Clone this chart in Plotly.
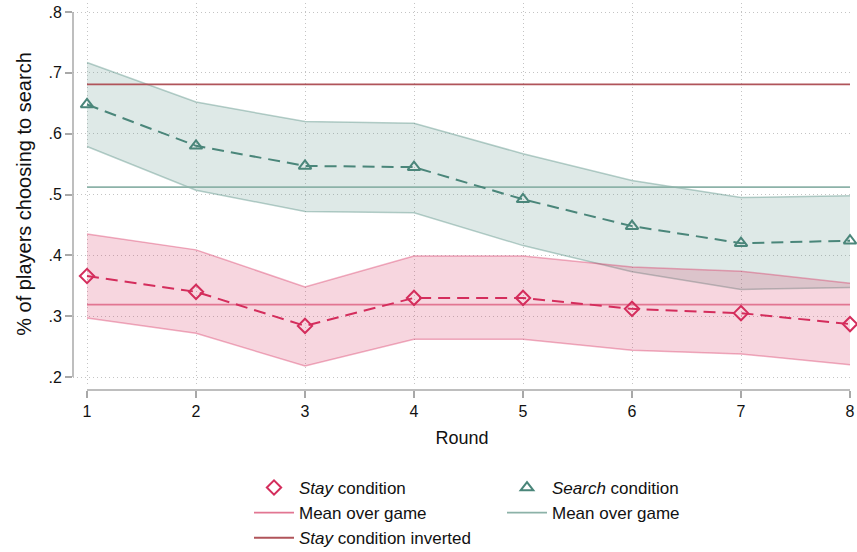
import plotly.graph_objects as go

# ---------------- data ----------------
rounds = [1, 2, 3, 4, 5, 6, 7, 8]
stay_share = [0.366, 0.340, 0.284, 0.330, 0.330, 0.312, 0.305, 0.287]
stay_low = [0.297, 0.272, 0.218, 0.262, 0.262, 0.244, 0.238, 0.220]
stay_high = [0.435, 0.409, 0.348, 0.399, 0.399, 0.381, 0.374, 0.354]
search_share = [0.648, 0.580, 0.547, 0.545, 0.492, 0.448, 0.420, 0.424]
search_low = [0.579, 0.507, 0.472, 0.470, 0.416, 0.373, 0.344, 0.347]
search_high = [0.717, 0.652, 0.620, 0.617, 0.567, 0.523, 0.495, 0.498]
stay_game_mean = 0.319
search_game_mean = 0.512
stay_inverted = round(1 - stay_game_mean, 3)

y_tick_vals = [0.2, 0.3, 0.4, 0.5, 0.6, 0.7, 0.8]
y_tick_text = [".2", ".3", ".4", ".5", ".6", ".7", ".8"]
x_tick_vals = rounds
x_tick_text = [str(r) for r in rounds]

# ---------------- style ----------------
FONT = "Liberation Sans, Arial, sans-serif"
RED = "rgb(212,45,92)"
RED_FILL = "rgba(215,48,95,0.20)"
RED_EDGE = "rgba(215,48,95,0.38)"
RED_MEAN = "rgb(226,118,146)"
INV = "rgb(176,84,90)"
TEAL = "rgb(74,134,122)"
TEAL_FILL = "rgba(78,138,126,0.19)"
TEAL_EDGE = "rgba(78,138,126,0.40)"
TEAL_MEAN = "rgb(140,178,168)"
AXIS = "#a8a8a8"
GRID = "#c4c4c4"

W, H = 857, 552
ML, MR, MT, MB = 73, 6, 3, 162
PW, PH = W - ML - MR, H - MT - MB
# x: 1 -> px 87, 8 -> px 850
px_per_round = (850 - 87) / 7
x0 = 1 - (87 - ML) / px_per_round
x1 = 8 + (W - MR - 850) / px_per_round
# y: .8 -> px 12, .2 -> px 377 ; y domain bottom at px 385
px_per_unit = (377 - 12) / 0.6
ytop_px, ybot_px = MT, 385
y1 = 0.8 + (12 - ytop_px) / px_per_unit
y0 = 0.2 - (ybot_px - 377) / px_per_unit
d0 = (MT + PH - ybot_px) / PH


def paper_x(v):
    return (v - x0) / (x1 - x0)


def paper_y(v):
    return d0 + (v - y0) / (y1 - y0) * (1 - d0)


fig = go.Figure()

# search ribbon
fig.add_trace(go.Scatter(x=rounds, y=search_low, mode="lines",
                         line=dict(color=TEAL_EDGE, width=1.5),
                         showlegend=False, hoverinfo="skip"))
fig.add_trace(go.Scatter(x=rounds, y=search_high, mode="lines", fill="tonexty",
                         fillcolor=TEAL_FILL, line=dict(color=TEAL_EDGE, width=1.5),
                         showlegend=False, hoverinfo="skip"))
# stay ribbon
fig.add_trace(go.Scatter(x=rounds, y=stay_low, mode="lines",
                         line=dict(color=RED_EDGE, width=1.5),
                         showlegend=False, hoverinfo="skip"))
fig.add_trace(go.Scatter(x=rounds, y=stay_high, mode="lines", fill="tonexty",
                         fillcolor=RED_FILL, line=dict(color=RED_EDGE, width=1.5),
                         showlegend=False, hoverinfo="skip"))

# horizontal means
fig.add_trace(go.Scatter(x=[rounds[0], rounds[-1]], y=[stay_game_mean] * 2, mode="lines",
                         line=dict(color=RED_MEAN, width=1.8),
                         name="Mean over game", legend="legend", legendrank=2))
fig.add_trace(go.Scatter(x=[rounds[0], rounds[-1]], y=[search_game_mean] * 2, mode="lines",
                         line=dict(color=TEAL_MEAN, width=1.8),
                         name="Mean over game", legend="legend2", legendrank=2))
fig.add_trace(go.Scatter(x=[rounds[0], rounds[-1]], y=[stay_inverted] * 2, mode="lines",
                         line=dict(color=INV, width=1.8),
                         name="<i>Stay</i> condition inverted", legend="legend", legendrank=3))

# dashed connecting lines
fig.add_trace(go.Scatter(x=rounds, y=search_share, mode="lines",
                         line=dict(color=TEAL, width=2, dash="12px,7px"),
                         showlegend=False, hoverinfo="skip"))
fig.add_trace(go.Scatter(x=rounds, y=stay_share, mode="lines",
                         line=dict(color=RED, width=2, dash="12px,7px"),
                         showlegend=False, hoverinfo="skip"))

# markers
fig.add_trace(go.Scatter(x=rounds, y=search_share, mode="markers", cliponaxis=False,
                         marker=dict(symbol="triangle-up-open", size=11, color=TEAL,
                                     line=dict(width=2, color=TEAL)),
                         name="<i>Search</i> condition", legend="legend2", legendrank=1))
fig.add_trace(go.Scatter(x=rounds, y=stay_share, mode="markers", cliponaxis=False,
                         marker=dict(symbol="diamond-open", size=11, color=RED,
                                     line=dict(width=2, color=RED)),
                         name="<i>Stay</i> condition", legend="legend", legendrank=1))

# axis lines (Stata style, only spanning the scale)
fig.add_shape(type="line", xref="paper", yref="paper",
              x0=0, x1=0, y0=paper_y(0.2), y1=paper_y(0.8),
              line=dict(color=AXIS, width=1.5))
fig.add_shape(type="line", xref="paper", yref="paper",
              x0=paper_x(1), x1=paper_x(8), y0=0, y1=0,
              line=dict(color=AXIS, width=1.5))

legend_font = dict(family=FONT, size=17, color="#111")
legend_top = (MT + PH - 470) / PH
fig.update_layout(
    width=W, height=H,
    margin=dict(l=ML, r=MR, t=MT, b=MB, autoexpand=False),
    paper_bgcolor="white", plot_bgcolor="white",
    font=dict(family=FONT, size=16, color="#111"),
    xaxis=dict(range=[x0, x1], anchor="free", position=0,
               tickvals=x_tick_vals, ticktext=x_tick_text,
               ticks="outside", ticklen=7, tickcolor=AXIS, tickwidth=1.5,
               showline=False, zeroline=False,
               showgrid=True, gridcolor=GRID, griddash="1px,3px", gridwidth=1,
               tickfont=dict(family=FONT, size=16, color="#111"),
               title=dict(text="Round", font=dict(family=FONT, size=18, color="#111"),
                          standoff=12)),
    yaxis=dict(range=[y0, y1], domain=[d0, 1],
               tickvals=y_tick_vals, ticktext=y_tick_text,
               ticks="outside", ticklen=7, tickcolor=AXIS, tickwidth=1.5,
               showline=False, zeroline=False,
               showgrid=True, gridcolor=GRID, griddash="1px,3px", gridwidth=1,
               tickfont=dict(family=FONT, size=16, color="#111"),
               title=dict(text="% of players choosing to search",
                          font=dict(family=FONT, size=20, color="#111"),
                          standoff=11)),
    legend=dict(x=(249 - ML) / PW, y=legend_top, xanchor="left", yanchor="top",
                orientation="v", font=legend_font, itemwidth=40, traceorder="normal",
                bgcolor="rgba(0,0,0,0)", tracegroupgap=0),
    legend2=dict(x=(502 - ML) / PW, y=legend_top, xanchor="left", yanchor="top",
                 orientation="v", font=legend_font, itemwidth=40, traceorder="normal",
                 bgcolor="rgba(0,0,0,0)", tracegroupgap=0),
    showlegend=True,
)

fig.write_html("out.html")
